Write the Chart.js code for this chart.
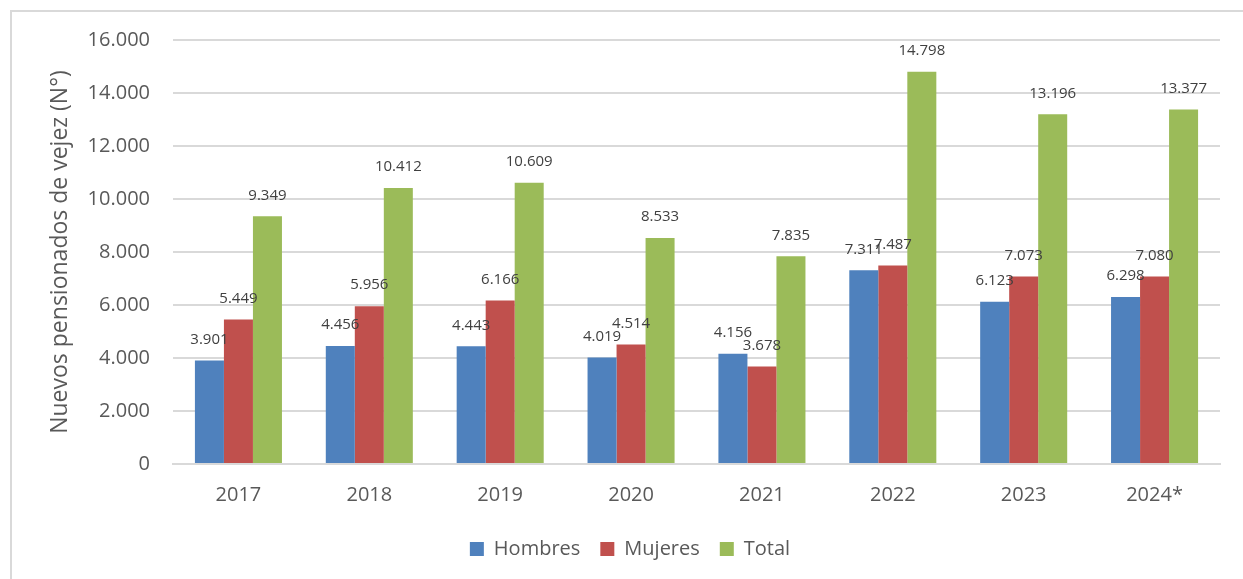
<!DOCTYPE html>
<html>
<head>
<meta charset="utf-8">
<script src="https://cdn.jsdelivr.net/npm/chart.js@4"></script>
<style>
  html, body { margin: 0; padding: 0; background: #fff; overflow: hidden; }
  #frame {
    position: absolute; left: 10px; top: 10px; width: 1300px; height: 700px;
    border-top: 2px solid #d9d9d9; border-left: 2px solid #d9d9d9;
  }
  #wrap { position: absolute; left: 0; top: 0; width: 1243px; height: 579px; }
</style>
</head>
<body>
<div id="frame"></div>
<div id="wrap"><canvas id="chart" width="1243" height="579"></canvas></div>
<script>
const years = ["2017", "2018", "2019", "2020", "2021", "2022", "2023", "2024*"];
const hombres = [3901, 4456, 4443, 4019, 4156, 7311, 6123, 6298];
const mujeres = [5449, 5956, 6166, 4514, 3678, 7487, 7073, 7080];
const total = [9349, 10412, 10609, 8533, 7835, 14798, 13196, 13377];

const FONT = "'Open Sans', 'Noto Sans', sans-serif";

// separador de miles con punto
function fmt(v) {
  return String(v).replace(/\B(?=(\d{3})+(?!\d))/g, ".");
}

const barLabels = {
  id: "barLabels",
  afterDatasetsDraw(chart) {
    const ctx = chart.ctx;
    ctx.save();
    ctx.font = "15px " + FONT;
    ctx.fillStyle = "#404040";
    ctx.textAlign = "center";
    ctx.textBaseline = "middle";
    chart.data.datasets.forEach((ds, i) => {
      const meta = chart.getDatasetMeta(i);
      meta.data.forEach((bar, j) => {
        ctx.fillText(fmt(ds.data[j]), bar.x, bar.y - 21);
      });
    });
    ctx.restore();
  },
};

new Chart(document.getElementById("chart"), {
  type: "bar",
  data: {
    labels: years,
    datasets: [
      { label: "Hombres", data: hombres, backgroundColor: "#4F81BD" },
      { label: "Mujeres", data: mujeres, backgroundColor: "#C0504D" },
      { label: "Total", data: total, backgroundColor: "#9BBB59" },
    ],
  },
  options: {
    responsive: false,
    animation: false,
    layout: { padding: { left: 40, top: 40, right: 23, bottom: 10 } },
    datasets: { bar: { categoryPercentage: 0.665, barPercentage: 1 } },
    plugins: {
      legend: {
        position: "bottom",
        labels: {
          font: { family: FONT, size: 20 },
          color: "#595959",
          boxWidth: 14,
          boxHeight: 14,
          padding: 20,
        },
      },
      tooltip: { enabled: false },
    },
    scales: {
      x: {
        grid: { display: false },
        border: { color: "#D9D9D9", width: 2 },
        ticks: { font: { family: FONT, size: 20 }, color: "#595959", padding: 11 },
        afterFit: (s) => { s.height = 55; },
      },
      y: {
        min: 0,
        max: 16000,
        ticks: {
          stepSize: 2000,
          font: { family: FONT, size: 20 },
          color: "#595959",
          padding: 23,
          callback: (v) => fmt(v),
        },
        grid: { color: "#D9D9D9", lineWidth: 2, drawTicks: false },
        border: { display: false },
        title: {
          display: true,
          text: "Nuevos pensionados de vejez (N°)",
          font: { family: FONT, size: 23 },
          color: "#595959",
          padding: { top: 7, bottom: 0 },
        },
        afterFit: (s) => { s.width = 133; },
      },
    },
  },
  plugins: [barLabels],
});
</script>
</body>
</html>
